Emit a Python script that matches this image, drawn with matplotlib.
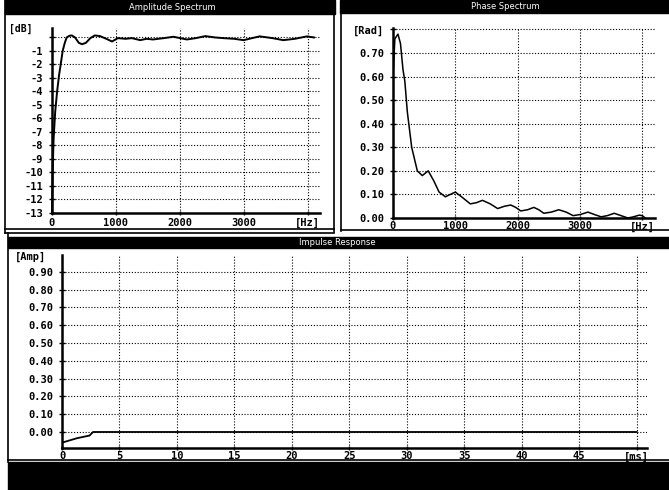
import matplotlib
matplotlib.use("Agg")
import matplotlib.pyplot as plt
from matplotlib.patches import Rectangle

W, H = 669, 490

# amplitude spectrum (dB vs Hz)
amp_freq = [0, 10, 25, 50, 80, 110, 136, 167, 200, 230, 270, 310, 360, 420, 470,
            530, 600, 670, 750, 850, 940, 1030, 1150, 1250, 1380, 1480, 1580, 1750,
            1900, 2110, 2250, 2400, 2550, 2680, 2850, 3000, 3130, 3250, 3450, 3620,
            3800, 3990, 4100]
amp_db = [-13, -10, -7.5, -5.5, -4, -2.8, -2, -1, -0.4, 0, 0.12, 0.15, 0.0, -0.4,
          -0.5, -0.4, -0.05, 0.15, 0.1, -0.1, -0.3, -0.05, -0.1, -0.05, -0.2, -0.1,
          -0.15, -0.05, 0.05, -0.15, -0.05, 0.1, 0.0, -0.05, -0.1, -0.2, -0.05, 0.08,
          -0.05, -0.2, -0.1, 0.08, 0.0]

# phase spectrum (rad vs Hz)
ph_freq = [0, 0, 30, 80, 120, 160, 190, 230, 300, 390, 470, 565, 650, 740, 840, 920,
           1000, 1100, 1240, 1340, 1435, 1560, 1680, 1790, 1890, 1970, 2050, 2160,
           2260, 2340, 2420, 2540, 2660, 2780, 2890, 3010, 3130, 3230, 3340, 3440,
           3550, 3660, 3770, 3860, 3950, 4000, 4050]
ph_rad = [0, 0.6, 0.76, 0.78, 0.74, 0.63, 0.58, 0.45, 0.3, 0.2, 0.18, 0.2, 0.16,
          0.11, 0.09, 0.1, 0.11, 0.09, 0.06, 0.065, 0.075, 0.06, 0.04, 0.05, 0.055,
          0.045, 0.03, 0.035, 0.045, 0.035, 0.02, 0.025, 0.035, 0.025, 0.01, 0.015,
          0.025, 0.015, 0.005, 0.01, 0.02, 0.01, 0.0, 0.005, 0.012, 0.01, 0.0]

# impulse response (amp vs ms)
imp_t = [0, 1.3, 2.4, 2.7, 50]
imp_amp = [-0.06, -0.035, -0.02, 0.0, 0.0]

hz_ticks = [0, 1000, 2000, 3000, 4000]
hz_labels = ["0", "1000", "2000", "3000", "[Hz]"]
db_ticks = [0, -1, -2, -3, -4, -5, -6, -7, -8, -9, -10, -11, -12, -13]
db_labels = [""] + ["-%d" % d for d in range(1, 14)]
rad_ticks = [0, 0.1, 0.2, 0.3, 0.4, 0.5, 0.6, 0.7, 0.8]
rad_labels = ["0.00", "0.10", "0.20", "0.30", "0.40", "0.50", "0.60", "0.70", "[Rad]"]
ms_ticks = [0, 5, 10, 15, 20, 25, 30, 35, 40, 45, 50]
ms_labels = ["0", "5", "10", "15", "20", "25", "30", "35", "40", "45", "[ms]"]
amp_ticks = [0, 0.1, 0.2, 0.3, 0.4, 0.5, 0.6, 0.7, 0.8, 0.9]
amp_labels = ["0.00", "0.10", "0.20", "0.30", "0.40", "0.50", "0.60", "0.70", "0.80", "0.90"]

FONT = "DejaVu Sans Mono"

fig = plt.figure(figsize=(W / 100, H / 100), dpi=100)


def px_axes(left, top, right, bottom, **kw):
    return fig.add_axes([left / W, 1 - bottom / H, (right - left) / W, (bottom - top) / H], **kw)


# overlay for window frames and title bars
bg = px_axes(0, 0, W, H)
bg.set_xlim(0, W)
bg.set_ylim(H, 0)
bg.axis("off")
bg.set_zorder(-1)

bars = [(5, 0, 335, 14, "Amplitude Spectrum", 172),
        (340, 0, W, 13, "Phase Spectrum", 505),
        (8, 237, W, 248, "Impulse Response", 337)]
for x0, y0, x1, y1, title, xc in bars:
    bg.add_patch(Rectangle((x0, y0), x1 - x0, y1 - y0, color="black"))
    bg.text(xc, (y0 + y1) / 2, title, color="white", fontsize=6, ha="center", va="center")
bg.add_patch(Rectangle((8, 462), W - 8, H - 462, color="black"))

frame_lines = [([5, 5], [0, 233]), ([334, 334], [0, 232]), ([341, 341], [0, 231]),
               ([5, 334], [229, 229]), ([5, 334], [233, 233]), ([341, W], [230, 230]),
               ([8, 8], [233, 462]), ([8, W], [460, 460])]
for xs, ys in frame_lines:
    bg.plot(xs, ys, color="black", lw=1.2)


def style(ax, xt, xl, yt, yl, xpad, ypad):
    ax.set_xticks(xt)
    ax.set_xticklabels(xl)
    ax.set_yticks(yt)
    ax.set_yticklabels(yl)
    ax.grid(True, color="black", linestyle=(0, (1, 1.6)), lw=0.8)
    for s in ["top", "right"]:
        ax.spines[s].set_visible(False)
    for s in ["left", "bottom"]:
        ax.spines[s].set_linewidth(1.8)
    ax.tick_params(axis="y", direction="inout", length=5, width=1, pad=ypad)
    ax.tick_params(axis="x", direction="inout", length=3, width=1, pad=xpad)
    for lab in ax.get_xticklabels() + ax.get_yticklabels():
        lab.set_fontfamily(FONT)
        lab.set_fontweight("bold")
        lab.set_fontsize(7.5)
    ax.patch.set_alpha(0)


ax1 = px_axes(52, 28, 320.4, 213)
ax1.plot(amp_freq, amp_db, color="black", lw=1.4, clip_on=False)
ax1.set_xlim(0, 4200)
ax1.set_ylim(-13, 0.7)
style(ax1, hz_ticks, hz_labels, db_ticks, db_labels, 2, 4)
ax1.text(-300, 0.6, "[dB]", fontfamily=FONT, fontweight="bold", fontsize=7,
         ha="right", va="center")

ax2 = px_axes(393, 28, 654.7, 218)
ax2.plot(ph_freq, ph_rad, color="black", lw=1.1)
ax2.set_xlim(0, 4200)
ax2.set_ylim(0, 0.806)
style(ax2, hz_ticks, hz_labels, rad_ticks, rad_labels, 1, 4)

ax3 = px_axes(62, 255, 647, 448)
ax3.plot(imp_t, imp_amp, color="black", lw=1.3)
ax3.set_xlim(0, 50.9)
ax3.set_ylim(-0.09, 0.995)
style(ax3, ms_ticks, ms_labels, amp_ticks, amp_labels, 1, 4)
ax3.text(-1.4, 0.985, "[Amp]", fontfamily=FONT, fontweight="bold", fontsize=7.5,
         ha="right", va="center")

fig.savefig("out.png", dpi=100)
